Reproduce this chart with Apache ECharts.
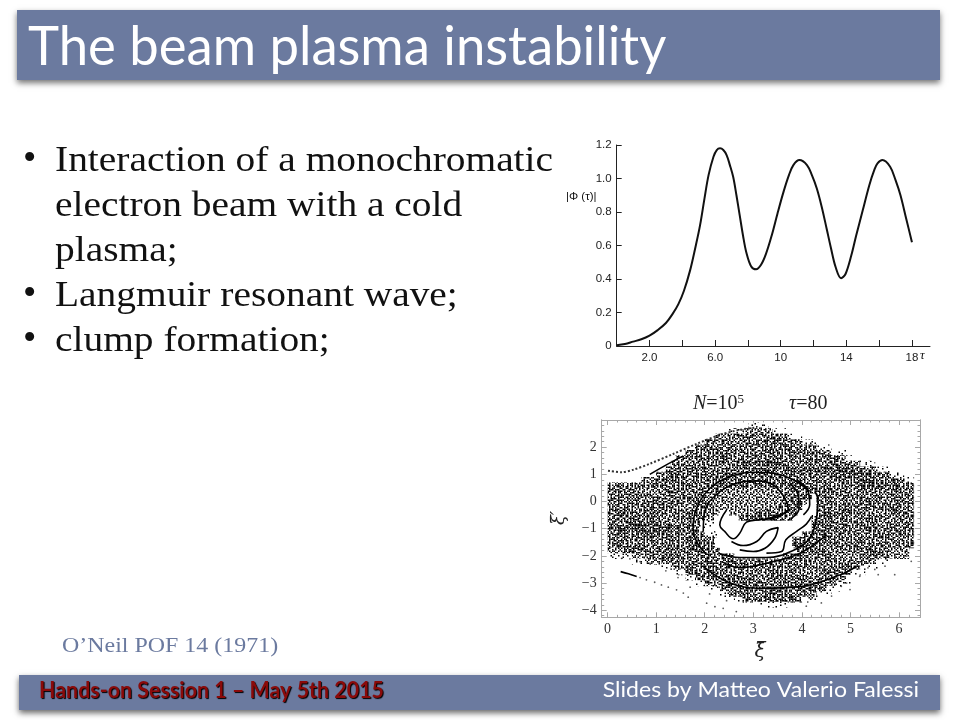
<!DOCTYPE html>
<html><head><meta charset="utf-8">
<style>html,body{margin:0;padding:0;background:#fff}#c{width:960px;height:720px}</style>
<script src="https://cdn.jsdelivr.net/npm/echarts@6/dist/echarts.min.js"></script>
</head><body><div id="c"></div>
<script>
// Upper chart: |Phi(tau)| versus tau
const tauCurve = [[0,0.005],[0.5,0.012],[1,0.026],[1.5,0.04],[2,0.062],[2.5,0.095],[3,0.137],[3.4,0.19],[3.76,0.25],[4.1,0.33],[4.47,0.45],[4.8,0.59],[5.08,0.72],[5.35,0.88],[5.6,1.02],[5.9,1.13],[6.1,1.17],[6.3,1.18],[6.5,1.17],[6.7,1.14],[6.9,1.08],[7.1,1.01],[7.3,0.9],[7.5,0.78],[7.7,0.66],[7.9,0.56],[8.2,0.475],[8.5,0.458],[8.8,0.485],[9.1,0.55],[9.45,0.66],[9.8,0.79],[10.17,0.92],[10.5,1.02],[10.77,1.08],[11.14,1.11],[11.6,1.08],[11.9,1.02],[12.2,0.94],[12.5,0.83],[12.8,0.7],[13.05,0.59],[13.35,0.47],[13.68,0.405],[13.95,0.43],[14.3,0.54],[14.6,0.66],[15.0,0.81],[15.4,0.96],[15.7,1.05],[15.9,1.09],[16.2,1.11],[16.67,1.07],[17.0,0.99],[17.3,0.9],[17.65,0.76],[18,0.62]];
const tauLabels = [2,6,10,14,18];
const tauTicks = [2,4,6,8,10,12,14,16,18];
const phiTicks = [0,0.2,0.4,0.6,0.8,1.0,1.2];

// Lower chart: density of the phase-space cloud, read by eye: [xi', xi from, xi to, level]
const densityBands = [
[2.8,2.9,3.3,1],[2.6,2.5,2.8,1],[2.6,2.8,3.4,2],[2.6,3.4,3.7,1],[2.4,2.2,2.5,2],[2.4,2.5,3.7,3],[2.4,3.7,4.0,1],
[2.2,2.0,4.0,3],[2.2,4.0,4.3,1],[2.0,1.8,4.3,3],[2.0,4.3,4.6,1],[1.8,1.6,4.6,3],[1.8,4.6,4.9,1],[1.6,1.4,4.9,3],[1.6,4.9,5.2,1],
[1.4,1.3,5.2,3],[1.4,5.2,5.5,1],[1.2,1.2,5.5,3],[1.2,5.5,5.8,1],[1.0,1.0,5.8,3],[1.0,5.8,6.1,1],[0.8,0.7,6.1,3],[0.8,6.1,6.3,1],
[0.6,0,6.3,3],[0.4,0,6.3,3],[0.2,0,6.3,3],[0,0,6.3,3],[-0.2,0,6.3,3],[-0.4,0,6.3,3],[-0.6,0,6.3,3],[-0.8,0,6.3,3],
[-1.0,0,6.3,3],[-1.2,0,6.3,3],[-1.4,0,6.3,3],[-1.6,0,6.3,3],[-1.8,0,6.2,2],[-1.8,0.3,5.9,3],
[-2.0,0,0.5,1],[-2.0,0.5,0.8,2],[-2.0,0.8,5.8,3],[-2.0,5.8,6.2,2],[-2.2,0.5,0.8,1],[-2.2,0.8,1.1,2],[-2.2,1.1,5.5,3],[-2.2,5.5,5.9,1],
[-2.4,1.1,1.3,1],[-2.4,1.3,5.2,3],[-2.4,5.2,5.6,1],[-2.6,1.4,1.6,1],[-2.6,1.6,5.0,3],[-2.6,5.0,5.3,1],[-2.8,1.6,1.8,1],[-2.8,1.8,4.9,3],[-2.8,4.9,5.1,1],
[-3.0,1.8,2.0,1],[-3.0,2.0,4.7,3],[-3.0,4.7,5.0,1],[-3.2,2.1,2.3,1],[-3.2,2.3,4.5,3],[-3.2,4.5,4.8,1],[-3.4,2.3,2.5,1],[-3.4,2.5,4.3,3],[-3.4,4.3,4.6,1],
[-3.6,2.6,2.8,1],[-3.6,2.8,4.0,3],[-3.6,4.0,4.3,1],[-3.8,3.0,3.7,1],
[1.4,2.6,3.8,4],[1.2,3.4,5.2,4],[1.0,4.6,5.4,4],[0.8,4.9,5.5,4],[0.6,5.1,5.6,4],[-0.8,0.3,1.3,4],[-1.0,0.2,1.4,4],[-1.2,0.2,1.5,4],
[0.4,0.6,1.2,2],[-0.2,1.4,1.7,2],[0.6,4.5,4.8,2],[-0.4,5.2,5.8,2],[-1.0,4.6,4.9,4],[-2.6,3.8,4.4,2],[-2.0,4.6,5.2,2],
[0.6,2.5,3.6,3],[0.4,2.3,3.6,2],[0.2,2.3,3.6,2],[0,2.2,3.6,2],[-0.2,2.2,3.5,2],[-0.4,2.3,3.1,2],
[-0.4,2.25,2.45,0],[-0.6,2.2,2.7,0],[-0.8,2.2,4.2,0],[-1.0,2.2,4.15,0],[-1.2,2.25,4.0,0],[-1.4,2.2,3.8,0],[-1.6,2.2,3.8,0],[-1.8,2.3,3.85,0],[-2.0,2.6,3.6,0],
[-0.8,1.9,2.2,1],[-1.0,1.9,2.2,1],[-1.2,2.0,2.25,1],[-0.6,2.0,2.2,2],
[0.2,4.15,4.3,0],[0,4.1,4.3,0],[-0.2,4.0,4.3,0],[-0.4,3.9,4.3,0],[-0.6,3.8,4.2,0]
];
// Filaments of the vortex, read by eye: [xi, xi']
const ringOuter = [[2.04,-1.96],[1.83,-1.47],[1.76,-0.98],[1.83,-0.25],[2.11,0.49],[2.52,0.92],[3.0,1.08],[3.41,1.04],[3.82,0.8],[4.16,0.37]];
const ringInner = [[1.97,-1.1],[2.0,-0.37],[2.24,0.25],[2.65,0.67],[3.07,0.76],[3.41,0.61],[3.65,0.12],[3.72,-0.31],[3.55,-0.49],[3.2,-0.67]];
const holeEdge = [[2.28,-1.9],[2.72,-2.06],[3.27,-2.06],[3.82,-1.8],[4.16,-1.35],[4.3,-0.61],[4.33,0.06],[4.27,0.37]];
const lowerArc = [[2.35,-2.21],[2.72,-2.43],[3.27,-2.27],[3.96,-1.9],[4.51,-1.23]];
const bottomRing = [[1.97,-2.39],[2.45,-2.94],[3.07,-3.19],[3.96,-3.13],[4.78,-2.7],[5.12,-2.39]];
const flameA = [[2.45,-0.31],[2.31,-0.86],[2.41,-1.1],[2.59,-1.37],[2.72,-1.17],[2.86,-0.76],[3.13,-0.67],[3.44,-0.61],[3.72,-0.31]];
const flameB = [[2.55,-1.47],[2.79,-1.62],[3.07,-1.47],[3.27,-1.1],[3.51,-0.96],[3.44,-1.35],[3.24,-1.72],[3.0,-1.84],[2.72,-1.78]];
const flameC = [[3.27,-1.9],[3.58,-1.84],[3.67,-1.41],[3.89,-1.1],[4.09,-0.83],[4.2,-0.55]];
const lobeA = [[3.79,-0.61],[3.94,-0.27],[3.92,0.25],[3.75,0.67]];
const lobeB = [[4.03,-0.49],[4.16,-0.12],[4.13,0.37],[3.89,0.8]];
const upperEdge = [[0.87,1.0],[1.21,1.35],[1.56,1.68]];
const tailHead = [[0.27,-2.58],[0.43,-2.66],[0.6,-2.76]];
const filaments = [ringOuter,ringInner,holeEdge,lowerArc,bottomRing,flameA,flameB,flameC,lobeA,lobeB,upperEdge,tailHead];
// Separated thin arc above the cloud
const thinArc = [[0.01,1.13],[0.29,1.08],[0.53,1.17],[0.87,1.39],[1.35,1.75],[1.83,2.12],[2.31,2.45],[2.72,2.64],[3.07,2.72]];
// Isolated points below the cloud
const strayPoints = [[0.67,-2.8],[0.8,-2.88],[0.97,-2.97],[1.11,-3.07],[1.25,-3.15],[1.42,-3.25],[1.56,-3.37],[1.66,-3.52],[2.04,-3.74],[2.21,-3.87],[2.38,-3.93],[2.65,-4.05],
[5.19,-2.75],[4.99,-3.24],[4.61,-3.48],[4.4,-3.73],[4.09,-3.85],[5.91,-2.69],[5.57,-2.69],[5.71,-2.38],[5.5,-2.5],[5.36,-2.44],[6.15,-2.01],[6.25,-2.2],[4.92,-3.0],[4.81,-3.12],
[0.29,-2.09],[0.46,-2.11],[0.67,-2.21],[0.88,-2.28],[1.2,-2.55],[1.45,-2.8],[1.7,-3.15],[2.1,-3.4],[2.45,-3.65]];
const xiLabels = [0,1,2,3,4,5,6];
const xiPrimeLabels = [-4,-3,-2,-1,0,1,2];
const minorXi = [], minorXiPrime = [];
for (let i = 0; i <= 31; i++) minorXi.push(i / 5);
for (let i = -21; i <= 14; i++) minorXiPrime.push(i / 5);

// Fill texture for the density levels (style only): two hand-drawn speckle masks
const speckleA = ["##..#.##...#..##.#..##.",".#.##..#.#.##..#..#.#.#","#...#.#..##.#.#..##...#",".##..##.#...#..#.#..##.","#.#.#...##.#..##...#.#.","..##..#.#..##.#..#.#..#","#..#.##..#...#.#.##..#.",".#...#.##.#.#...#..##..","##.#..#...##.##.#.#..##","..#.##.#.#..#...#..#.#.",".#..#...##.#..##.#...##","#.##.#.#..#.#..#..##.#.","#...##..#.##..#.#.#...#",".##.#..#..#..##..#..##.","..#..#.##..#.#.#.##.#..","#.#.#..#.#.#...#...#..#",".#..##.#..#.##.#.#..##.","#.##...#.#...#.#.##.#..",".#..#.#..##.#..#...#.##"];
const speckleB = ["#....#...##....#.","..#.....#....#..#",".##..#.....#.....","....##..#....##..","#.......#.#.....#","..#.#.#......#...",".....#...##...#..","##......#....#...","...#..#.....#...#",".#....#..#.......","....#.....#.##...","#.#....#.....#.#.","...##.....#......"];
const isA = (x, y) => speckleA[y % speckleA.length][x % speckleA[0].length] === '#';
const isB = (x, y) => speckleB[y % speckleB.length][x % speckleB[0].length] === '#';
const levelRule = {
  1: (x, y) => isA(x, y) && isB(x + 3, y + 5),
  2: (x, y) => isA(x, y),
  3: (x, y) => isA(x, y) || isB(x, y),
  4: (x, y) => isA(x, y) || isB(x, y) || isB(x + 7, y + 4)
};
function makeTexture(rule) {
  const w = 960, h = 720, step = 1.5;
  const raw = document.createElement('canvas'); raw.width = w; raw.height = h;
  const rc = raw.getContext('2d');
  rc.fillStyle = '#fff'; rc.fillRect(0, 0, w, h);
  rc.fillStyle = '#000';
  for (let j = 260; j < 430; j++) for (let i = 390; i < 620; i++) if (rule(i, j)) rc.fillRect(i * step, j * step, step, step);
  const out = document.createElement('canvas'); out.width = w; out.height = h;
  const oc = out.getContext('2d');
  oc.filter = 'blur(0.4px)';
  oc.drawImage(raw, 0, 0);
  return out;
}
const levelFill = {};
Object.keys(levelRule).forEach(k => { levelFill[k] = {image: makeTexture(levelRule[k]), repeat: 'repeat'}; });

// Expand the bands into cells; later bands override earlier ones
const cellMap = new Map();
densityBands.forEach(([y, x0, x1, lev]) => {
  for (let i = Math.round(x0 * 10); i < Math.round(x1 * 10); i++) {
    const k = i + '|' + y;
    if (lev === 0) cellMap.delete(k); else cellMap.set(k, [(i + 0.5) / 10, y, lev]);
  }
});
const densityCells = Array.from(cellMap.values());

const chart = echarts.init(document.getElementById('c'));
const slate = '#6b7a9f';
const serif = '"Liberation Serif"';
const frame = '#a8a8a8';
const frameAxis = (pos, vals, len, extra) => Object.assign({
  type:'value', gridIndex:1, position:pos,
  axisLine:{show:true, onZero:false, lineStyle:{color:frame}},
  axisTick:{show:true, inside:true, length:len, customValues:vals, lineStyle:{color:frame}},
  axisLabel:{show:false}, splitLine:{show:false}
}, extra);
const xRange = {min:-0.12, max:6.43}, yRange = {min:-4.26, max:3.0};
const tickLabel = {show:true, color:'#333', fontFamily:serif, fontSize:14};

const bullets = [
  [true, 144, 'Interaction of a monochromatic'],
  [false, 189, 'electron beam with a cold'],
  [false, 234, 'plasma;'],
  [true, 279, 'Langmuir resonant wave;'],
  [true, 324, 'clump formation;']
];
const graphic = [
  {type:'rect', shape:{x:17,y:10,width:923,height:70}, style:{fill:slate, shadowBlur:6, shadowOffsetY:3, shadowColor:'rgba(0,0,0,0.55)'}, z:1},
  {type:'rect', shape:{x:19,y:675,width:921,height:35}, style:{fill:slate, shadowBlur:6, shadowOffsetY:3, shadowColor:'rgba(0,0,0,0.6)'}, z:1},
  {type:'text', x:28, y:75, scaleX:0.94, scaleY:0.98, z:2, style:{text:'The beam plasma instability', fill:'#fff', font:'56px Lato', textVerticalAlign:'bottom'}},
  {type:'text', x:39, y:680, scaleX:1.02, scaleY:1.05, z:2, style:{text:'Hands-on Session 1 – May 5th 2015', fill:'#8a0a0a', font:'bold 21px Lato', textShadowColor:'#000', textShadowBlur:1, textShadowOffsetX:1, textShadowOffsetY:1}},
  {type:'text', x:919, y:679, scaleX:1.1, scaleY:1.05, z:2, style:{text:'Slides by Matteo Valerio Falessi', fill:'#fff', font:'21px Lato', textAlign:'right'}},
  {type:'text', x:62, y:636, scaleX:1.14, z:2, style:{text:'O’Neil POF 14 (1971)', fill:slate, font:'21px "Liberation Serif"'}},
  {type:'text', x:566, y:191, z:2, style:{text:'|Φ (τ)|', fill:'#111', font:'11.5px "Liberation Sans"'}},
  {type:'text', x:920, y:349, z:2, style:{text:'τ', fill:'#111', font:'italic 13px "Liberation Serif"'}},
  {type:'text', x:693, y:393, z:2, style:{rich:{i:{fontFamily:serif,fontStyle:'italic',fontSize:20,fill:'#222'},n:{fontFamily:serif,fontSize:20,fill:'#222'},s:{fontFamily:serif,fontSize:13,fill:'#222',padding:[0,0,8,0]}}, text:'{i|N}{n|=10}{s|5}{n|         }{i|τ}{n|=80}'}},
  {type:'text', x:760, y:642, z:2, style:{text:'ξ̄', fill:'#222', font:'italic 20px "DejaVu Serif"', textAlign:'center'}},
  {type:'text', x:550, y:518, rotation:Math.PI/2, z:2, style:{text:'ξ̄′', fill:'#222', font:'italic 18px "DejaVu Serif"', textAlign:'center'}}
];
bullets.forEach(([hasDot, top, t]) => {
  if (hasDot) graphic.push({type:'text', x:23, y:top-3, z:2, style:{text:'•', fill:'#111', font:'38px "Liberation Serif"'}});
  graphic.push({type:'text', x:55, y:top, scaleX:1.095, z:2, style:{text:t, fill:'#111', font:'36px "Liberation Serif"'}});
});

const series = [
  {type:'line', xAxisIndex:0, yAxisIndex:0, data:tauCurve, smooth:0.35, showSymbol:false, lineStyle:{color:'#111', width:2}, z:5},
  {type:'custom', xAxisIndex:1, yAxisIndex:1, data:densityCells, silent:true, z:3, clip:true,
   encode:{x:0,y:1},
   renderItem:(p, api) => {
     const c = api.coord([api.value(0), api.value(1)]);
     const s = api.size([0.1, 0.2]);
     return {type:'rect', shape:{x:c[0]-s[0]/2, y:c[1]-s[1]/2, width:s[0]+0.4, height:s[1]+0.4}, style:{fill:levelFill[api.value(2)]}};
   }},
  {type:'line', xAxisIndex:1, yAxisIndex:1, data:thinArc, smooth:0.3, showSymbol:false, lineStyle:{color:'#333', width:2, type:[2,2]}, z:4},
  {type:'scatter', xAxisIndex:1, yAxisIndex:1, data:strayPoints, symbolSize:1.8, itemStyle:{color:'#333'}, z:4}
];
filaments.forEach((f) => series.push({type:'line', xAxisIndex:1, yAxisIndex:1, data:f, smooth:0.4, showSymbol:false, lineStyle:{color:'#000', width:1.6}, z:4}));

chart.setOption({
  animation:false, backgroundColor:'#fff', graphic,
  grid:[
    {left:616.7, top:145, width:313.3, height:201},
    {left:601.7, top:420, width:318.3, height:197.3}
  ],
  xAxis:[
    {type:'value', gridIndex:0, min:0, max:19.1, axisLine:{lineStyle:{color:'#222'}},
     axisTick:{inside:true, length:6, customValues:tauTicks, lineStyle:{color:'#222'}},
     axisLabel:{customValues:tauLabels, color:'#222', fontFamily:'"Liberation Sans"', fontSize:11.5, margin:6, formatter:v => v < 10 ? v.toFixed(1) : String(v)},
     splitLine:{show:false}},
    frameAxis('bottom', xiLabels, 5, Object.assign({}, xRange, {axisLabel:Object.assign({}, tickLabel, {customValues:xiLabels, margin:5})})),
    frameAxis('top', xiLabels, 5, xRange),
    frameAxis('bottom', minorXi, 2.5, xRange),
    frameAxis('top', minorXi, 2.5, xRange)
  ],
  yAxis:[
    {type:'value', gridIndex:0, min:0, max:1.2, axisLine:{onZero:false, lineStyle:{color:'#222'}},
     axisTick:{inside:true, length:5, customValues:phiTicks, lineStyle:{color:'#222'}},
     axisLabel:{customValues:phiTicks, color:'#222', fontFamily:'"Liberation Sans"', fontSize:11.5, margin:5, formatter:v => v === 0 ? '0' : v.toFixed(1)},
     splitLine:{show:false}},
    frameAxis('left', xiPrimeLabels, 5, Object.assign({}, yRange, {axisLabel:Object.assign({}, tickLabel, {customValues:xiPrimeLabels, margin:5, formatter:v => String(v).replace('-', '−')})})),
    frameAxis('right', xiPrimeLabels, 5, yRange),
    frameAxis('left', minorXiPrime, 2.5, yRange),
    frameAxis('right', minorXiPrime, 2.5, yRange)
  ],
  series
});
</script></body></html>
